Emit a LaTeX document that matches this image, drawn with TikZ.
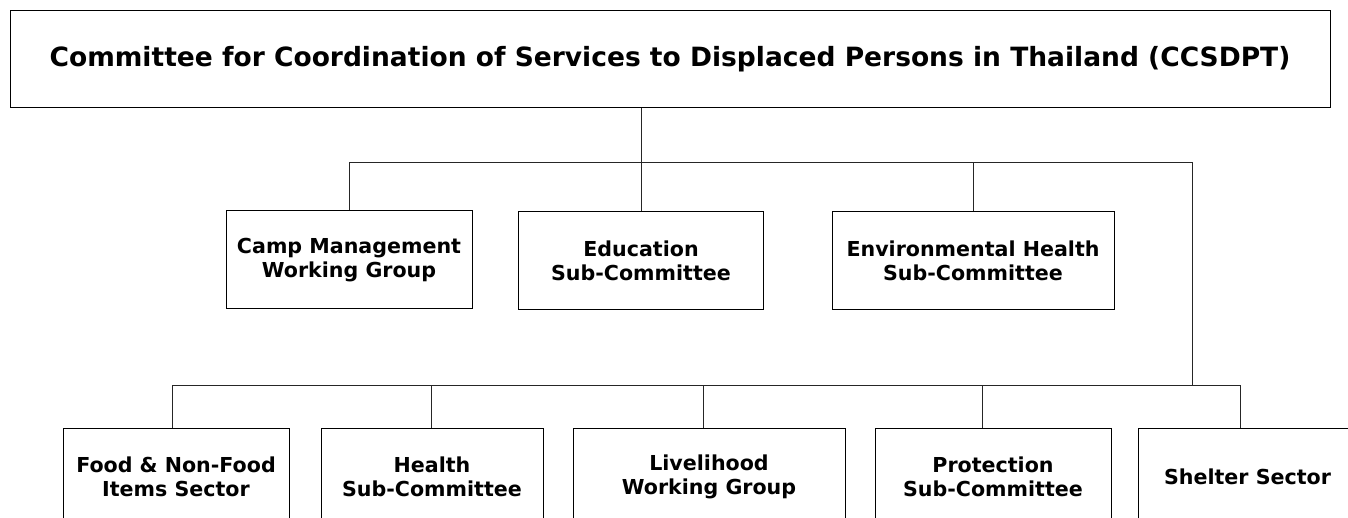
\documentclass[tikz,border=0pt]{standalone}
\usepackage{fontspec}
\newfontfamily\vfont{DejaVu Sans}
\begin{document}
\begin{tikzpicture}[x=1pt,y=-1pt,
  box/.style={draw=black,line width=1pt,fill=white,align=center,inner sep=0pt,
    font=\vfont\bfseries\fontsize{20.6}{24}\selectfont},
  titlebox/.style={box,font=\vfont\bfseries\fontsize{26.5}{30}\selectfont},
  link/.style={draw=black!85,line width=1pt}]
\useasboundingbox (0,0) rectangle (1348,518);
\clip (0,0) rectangle (1348,518);
% top
\node[titlebox,minimum width=1320pt,minimum height=97pt] (top) at (670,59.5)
  {Committee for Coordination of Services to Displaced Persons in Thailand (CCSDPT)};
% middle row
\node[box,minimum width=246pt,minimum height=98pt] (camp) at (349,260) {Camp Management\\Working Group};
\node[box,minimum width=245pt,minimum height=98pt] (edu) at (641,260.5) {Education\\Sub-Committee};
\node[box,minimum width=282pt,minimum height=98pt] (env) at (973,260.5) {Environmental Health\\Sub-Committee};
% bottom row
\node[box,minimum width=226pt,minimum height=97pt] (food) at (176,476.5) {Food \& Non-Food\\Items Sector};
\node[box,minimum width=222pt,minimum height=97pt] (health) at (432,476.5) {Health\\Sub-Committee};
\node[box,minimum width=272pt,minimum height=97pt] (live) at (709,476.5) {Livelihood\\Working Group};
\node[box,minimum width=236pt,minimum height=97pt] (prot) at (993,476.5) {Protection\\Sub-Committee};
\node[box,minimum width=219pt,minimum height=97pt] (shel) at (1247.5,476.5) {Shelter Sector};
% bus coordinates
\coordinate (j1) at (1192,163);
\coordinate (j2) at (1192,385);
\coordinate (d1) at (172,385);
\coordinate (d2) at (431,385);
\coordinate (d3) at (703,385);
\coordinate (d4) at (982,385);
\coordinate (d5) at (1240,385);
% connectors
\draw[link] (top.south -| edu.north) -- (edu.north);
\draw[link] (camp.north |- j1) -- (j1) -- (j2);
\draw[link] (camp.north |- j1) -- (camp.north);
\draw[link] (env.north |- j1) -- (env.north);
\draw[link] (d1) -- (d5);
\draw[link] (d1) -- (d1 |- food.north);
\draw[link] (d2) -- (d2 |- health.north);
\draw[link] (d3) -- (d3 |- live.north);
\draw[link] (d4) -- (d4 |- prot.north);
\draw[link] (d5) -- (d5 |- shel.north);
\end{tikzpicture}
\end{document}
